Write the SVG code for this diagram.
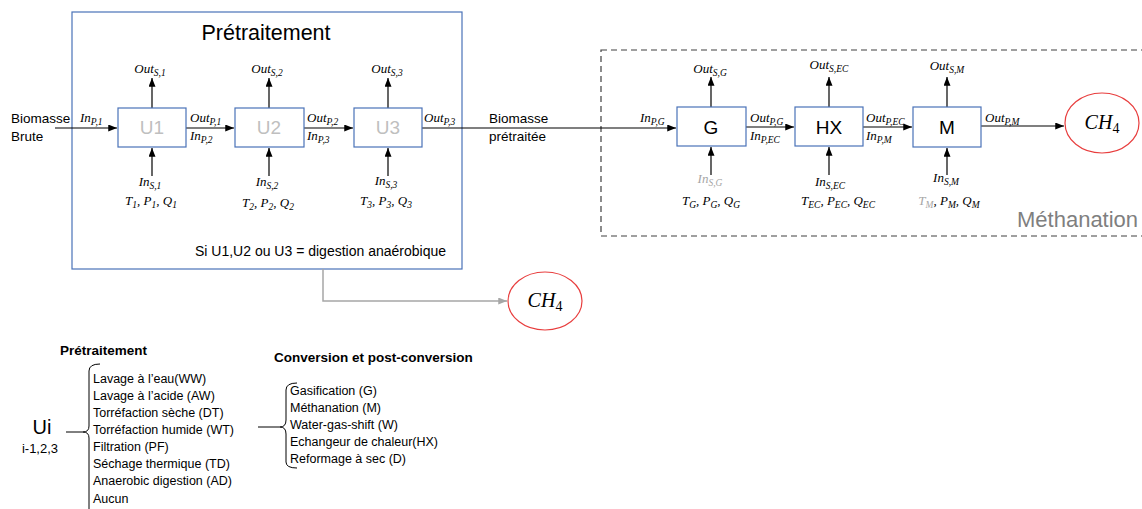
<svg xmlns="http://www.w3.org/2000/svg" width="1142" height="509" viewBox="0 0 1142 509">
<style>
.bx{fill:#fff;stroke:#4a72b8;stroke-width:1.2}
.ut{font-family:"Liberation Sans",Arial,sans-serif;font-size:19px;text-anchor:middle}
.tx{font-family:"Liberation Sans",Arial,sans-serif;font-size:13px;fill:#000}
.li{font-family:"Liberation Sans",Arial,sans-serif;font-size:12.5px;fill:#000}
.m{font-family:"Liberation Serif","Times New Roman",serif;font-style:italic;font-size:13px;fill:#000}
.s{font-size:9.5px}
.c{text-anchor:middle}
.ln{fill:none;stroke:#000;stroke-width:1.2}
.el{fill:#fff;stroke:#e83e3e;stroke-width:1.2}
</style>
<defs>
<marker id="ah" viewBox="0 0 10 8" refX="10" refY="4" markerWidth="9" markerHeight="7" markerUnits="userSpaceOnUse" orient="auto"><path d="M0,0 L10,4 L0,8 Z" fill="#000"/></marker>
<marker id="ahg" viewBox="0 0 10 8" refX="10" refY="4" markerWidth="9" markerHeight="7" markerUnits="userSpaceOnUse" orient="auto"><path d="M0,0 L10,4 L0,8 Z" fill="#a6a6a6"/></marker>
</defs>
<rect width="1142" height="509" fill="#fff"/>

<g id="pretraitement-zone">
<rect x="72" y="12" width="390" height="257" fill="none" stroke="#4a72b8" stroke-width="1.2"/>
<text x="266" y="40" class="tx" style="font-size:21.5px" text-anchor="middle">Prétraitement</text>
<text x="195" y="256" class="tx" style="font-size:14px">Si U1,U2 ou U3 = digestion anaérobique</text>
</g>

<g id="methanation-zone">
<rect x="601" y="50" width="560" height="186" fill="none" stroke="#404040" stroke-width="1.2" stroke-dasharray="6,4"/>
<text x="1017" y="227" class="tx" style="font-size:22px;fill:#7f7f7f">Méthanation</text>
</g>

<g id="connectors">
<path class="ln" d="M55,128 H117" marker-end="url(#ah)"/>
<path class="ln" d="M186,128 H234" marker-end="url(#ah)"/>
<path class="ln" d="M304,128 H353" marker-end="url(#ah)"/>
<path class="ln" d="M422,128 H676" stroke="#404040" marker-end="url(#ah)"/>
<path class="ln" d="M746,127 H794" marker-end="url(#ah)"/>
<path class="ln" d="M863,127 H912" marker-end="url(#ah)"/>
<path class="ln" d="M981,126 H1064" marker-end="url(#ah)"/>
<path class="ln" d="M152,108 V78" marker-end="url(#ah)"/>
<path class="ln" d="M269,108 V78" marker-end="url(#ah)"/>
<path class="ln" d="M388,108 V78" marker-end="url(#ah)"/>
<path class="ln" d="M711,107 V77" marker-end="url(#ah)"/>
<path class="ln" d="M829,107 V77" marker-end="url(#ah)"/>
<path class="ln" d="M947,107 V77" marker-end="url(#ah)"/>
<path class="ln" d="M152,176 V148" marker-end="url(#ah)"/>
<path class="ln" d="M269,176 V148" marker-end="url(#ah)"/>
<path class="ln" d="M388,176 V148" marker-end="url(#ah)"/>
<path class="ln" d="M711,175 V147" marker-end="url(#ah)"/>
<path class="ln" d="M829,175 V147" marker-end="url(#ah)"/>
<path class="ln" d="M947,175 V148" marker-end="url(#ah)"/>
<path d="M323,269 V301 H507" fill="none" stroke="#a6a6a6" stroke-width="1.5" marker-end="url(#ahg)"/>
</g>

<g id="connector-labels">
<text x="11" y="123" class="tx" style="font-size:13.5px">Biomasse</text>
<text x="11" y="141" class="tx" style="font-size:13.5px">Brute</text>
<text x="80" y="122" class="m">In<tspan class="s" dy="3">P,1</tspan></text>
<text x="190" y="122" class="m">Out<tspan class="s" dy="3">P,1</tspan></text>
<text x="190" y="140" class="m">In<tspan class="s" dy="3">P,2</tspan></text>
<text x="307" y="122" class="m">Out<tspan class="s" dy="3">P,2</tspan></text>
<text x="307" y="140" class="m">In<tspan class="s" dy="3">P,3</tspan></text>
<text x="424" y="122" class="m">Out<tspan class="s" dy="3">P,3</tspan></text>
<text x="489" y="123" class="tx" style="font-size:13.5px">Biomasse</text>
<text x="489" y="141" class="tx" style="font-size:13.5px">prétraitée</text>
<text x="640" y="122" class="m">In<tspan class="s" dy="3">P,G</tspan></text>
<text x="750" y="122" class="m">Out<tspan class="s" dy="3">P,G</tspan></text>
<text x="750" y="140" class="m">In<tspan class="s" dy="3">P,EC</tspan></text>
<text x="866" y="122" class="m">Out<tspan class="s" dy="3">P,EC</tspan></text>
<text x="866" y="140" class="m">In<tspan class="s" dy="3">P,M</tspan></text>
<text x="985" y="122" class="m">Out<tspan class="s" dy="3">P,M</tspan></text>

<text x="150" y="73" class="m c">Out<tspan class="s" dy="3">S,1</tspan></text>
<text x="267" y="73" class="m c">Out<tspan class="s" dy="3">S,2</tspan></text>
<text x="387" y="73" class="m c">Out<tspan class="s" dy="3">S,3</tspan></text>
<text x="710" y="73" class="m c">Out<tspan class="s" dy="3">S,G</tspan></text>
<text x="829" y="69" class="m c">Out<tspan class="s" dy="3">S,EC</tspan></text>
<text x="947" y="70" class="m c">Out<tspan class="s" dy="3">S,M</tspan></text>

<text x="150" y="186" class="m c">In<tspan class="s" dy="3">S,1</tspan></text>
<text x="267" y="186" class="m c">In<tspan class="s" dy="3">S,2</tspan></text>
<text x="386" y="185" class="m c">In<tspan class="s" dy="3">S,3</tspan></text>
<text x="710" y="183" class="m c" style="fill:#a6a6a6">In<tspan class="s" dy="3">S,G</tspan></text>
<text x="830" y="186" class="m c">In<tspan class="s" dy="3">S,EC</tspan></text>
<text x="946" y="182" class="m c">In<tspan class="s" dy="3">S,M</tspan></text>

<text x="151" y="205" class="m c">T<tspan class="s" dy="3">1</tspan><tspan dy="-3">, P</tspan><tspan class="s" dy="3">1</tspan><tspan dy="-3">, Q</tspan><tspan class="s" dy="3">1</tspan></text>
<text x="268" y="207" class="m c">T<tspan class="s" dy="3">2</tspan><tspan dy="-3">, P</tspan><tspan class="s" dy="3">2</tspan><tspan dy="-3">, Q</tspan><tspan class="s" dy="3">2</tspan></text>
<text x="386" y="205" class="m c">T<tspan class="s" dy="3">3</tspan><tspan dy="-3">, P</tspan><tspan class="s" dy="3">3</tspan><tspan dy="-3">, Q</tspan><tspan class="s" dy="3">3</tspan></text>
<text x="711" y="205" class="m c">T<tspan class="s" dy="3">G</tspan><tspan dy="-3">, P</tspan><tspan class="s" dy="3">G</tspan><tspan dy="-3">, Q</tspan><tspan class="s" dy="3">G</tspan></text>
<text x="838" y="205" class="m c">T<tspan class="s" dy="3">EC</tspan><tspan dy="-3">, P</tspan><tspan class="s" dy="3">EC</tspan><tspan dy="-3">, Q</tspan><tspan class="s" dy="3">EC</tspan></text>
<text x="949" y="205" class="m c"><tspan style="fill:#a6a6a6">T</tspan><tspan class="s" dy="3" style="fill:#a6a6a6">M</tspan><tspan dy="-3">, P</tspan><tspan class="s" dy="3">M</tspan><tspan dy="-3">, Q</tspan><tspan class="s" dy="3">M</tspan></text>
</g>

<g id="U1"><rect class="bx" x="118" y="108" width="68" height="39"/><text x="152" y="134" class="ut" fill="#bfbfbf">U1</text></g>
<g id="U2"><rect class="bx" x="235" y="108" width="69" height="39"/><text x="269" y="134" class="ut" fill="#bfbfbf">U2</text></g>
<g id="U3"><rect class="bx" x="354" y="108" width="68" height="39"/><text x="388" y="134" class="ut" fill="#bfbfbf">U3</text></g>
<g id="G"><rect class="bx" x="677" y="107" width="69" height="39"/><text x="711" y="134" class="ut" fill="#000">G</text></g>
<g id="HX"><rect class="bx" x="795" y="107" width="68" height="39"/><text x="829" y="134" class="ut" fill="#000">HX</text></g>
<g id="M"><rect class="bx" x="913" y="107" width="68" height="40"/><text x="947" y="134" class="ut" fill="#000">M</text></g>

<g id="CH4-out">
<ellipse class="el" cx="1102" cy="123" rx="37" ry="30"/>
<text x="1102" y="129" class="m c" style="font-size:20px">CH<tspan dy="4" style="font-style:normal;font-size:14px">4</tspan></text>
</g>
<g id="CH4-ad">
<ellipse class="el" cx="545" cy="301" rx="37" ry="29"/>
<text x="545" y="307" class="m c" style="font-size:20px">CH<tspan dy="4" style="font-style:normal;font-size:14px">4</tspan></text>
</g>

<g id="legend-pretraitement">
<text x="60" y="355" class="tx" style="font-weight:bold;font-size:13.5px">Prétraitement</text>
<text x="42" y="434" class="tx" style="font-size:20px" text-anchor="middle">Ui</text>
<text x="40" y="453" class="tx" text-anchor="middle">i-1,2,3</text>
<path d="M100,364 Q89,364 89,371 V426 Q89,432 83,432 H66 M83,432 Q89,432 89,438 V512" fill="none" stroke="#000" stroke-width="1"/>
<text x="93" y="383" class="li">Lavage à l’eau(WW)</text>
<text x="93" y="400" class="li">Lavage à l’acide (AW)</text>
<text x="93" y="417" class="li">Torréfaction sèche (DT)</text>
<text x="93" y="434" class="li">Torréfaction humide (WT)</text>
<text x="93" y="451" class="li">Filtration (PF)</text>
<text x="93" y="468" class="li">Séchage thermique (TD)</text>
<text x="93" y="485" class="li">Anaerobic digestion (AD)</text>
<text x="93" y="503" class="li">Aucun</text>
</g>

<g id="legend-conversion">
<text x="274" y="362" class="tx" style="font-weight:bold;font-size:13.5px">Conversion et post-conversion</text>
<path d="M297,383 Q286,383 286,390 V420 Q286,427 280,427 H258 M280,427 Q286,427 286,434 V462 Q286,468 297,468" fill="none" stroke="#000" stroke-width="1"/>
<text x="290" y="395" class="li">Gasification (G)</text>
<text x="290" y="412" class="li">Méthanation (M)</text>
<text x="290" y="429" class="li">Water-gas-shift (W)</text>
<text x="290" y="446" class="li">Echangeur de chaleur(HX)</text>
<text x="290" y="463" class="li">Reformage à sec (D)</text>
</g>
</svg>
